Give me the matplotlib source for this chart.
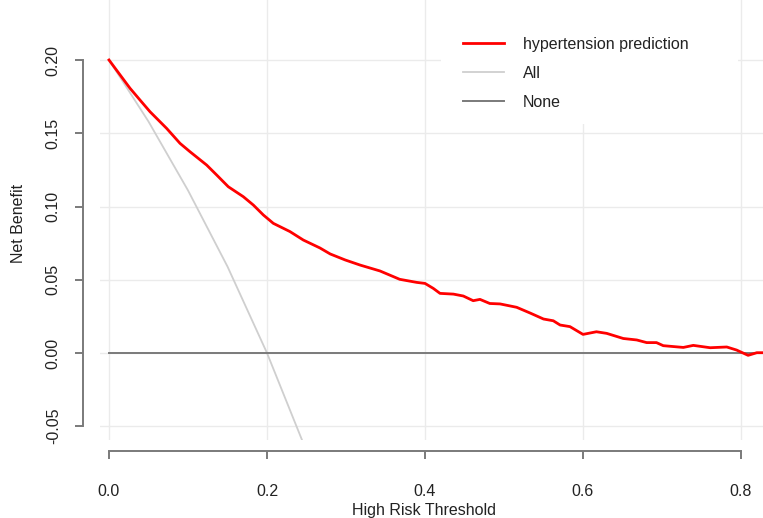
import matplotlib
matplotlib.use("Agg")
import matplotlib.pyplot as plt
from matplotlib.patches import Rectangle

plt.rcParams['font.family'] = ['Liberation Sans', 'DejaVu Sans']

# Model curve
model_x = [0.0, 0.0266, 0.0392, 0.0519, 0.073, 0.0899, 0.1025, 0.1236, 0.1363, 0.151,
           0.170, 0.1827, 0.1954, 0.208, 0.229, 0.246, 0.267, 0.28, 0.299, 0.318,
           0.343, 0.368, 0.3895, 0.4, 0.4105, 0.419, 0.436, 0.4485, 0.461, 0.4696,
           0.482, 0.495, 0.516, 0.533, 0.55, 0.5624, 0.571, 0.5835, 0.6, 0.617,
           0.63, 0.651, 0.668, 0.6806, 0.693, 0.7016, 0.727, 0.7396, 0.761, 0.782,
           0.7945, 0.809, 0.82, 0.828]
model_y = [0.200, 0.1807, 0.1727, 0.1647, 0.1533, 0.1431, 0.1374, 0.1283, 0.1215, 0.1135,
           0.1067, 0.101, 0.0942, 0.0885, 0.0829, 0.0771, 0.0717, 0.0676, 0.0635, 0.060,
           0.056, 0.0503, 0.0482, 0.0475, 0.0441, 0.0407, 0.0402, 0.0389, 0.0357, 0.0366,
           0.0338, 0.0335, 0.0312, 0.0273, 0.0232, 0.022, 0.0191, 0.018, 0.0127, 0.0145,
           0.0134, 0.0099, 0.0089, 0.0071, 0.0071, 0.0050, 0.0038, 0.0052, 0.0036, 0.0041,
           0.0020, -0.0016, 0.0002, 0.0002]

# Treat-all curve
all_x = [0.0, 0.05, 0.1, 0.15, 0.2, 0.25]
all_y = [0.200, 0.158, 0.111, 0.059, 0.0, -0.067]

# Treat-none
none_x = [0.0, 0.828]
none_y = [0.0, 0.0]

xticks = [0.0, 0.2, 0.4, 0.6, 0.8]
xtick_labels = ["0.0", "0.2", "0.4", "0.6", "0.8"]
yticks = [-0.05, 0.0, 0.05, 0.10, 0.15, 0.20]
ytick_labels = ["-0.05", "0.00", "0.05", "0.10", "0.15", "0.20"]

W, H = 763, 518
fig = plt.figure(figsize=(W / 100, H / 100), dpi=100)

def fx(px):
    return px / W

def fy(py):
    return 1 - py / H

ax = fig.add_axes([fx(100), fy(440), fx(763) - fx(100), fy(0) - fy(440)])

x0, xs = 109, 790.0
y0, ys = 353, 1465.0
ax.set_xlim((100 - x0) / xs, (763 - x0) / xs)
ax.set_ylim((y0 - 440) / ys, (y0 - 0) / ys)

grid_c = '#ebebeb'
ax.set_axisbelow(True)
ax.grid(True, color=grid_c, linewidth=1.0)

ax.add_patch(Rectangle((fx(441), fy(124)), fx(738) - fx(441), fy(0) - fy(124),
                       transform=fig.transFigure, facecolor='white', edgecolor='none',
                       zorder=1.5))

l_all, = ax.plot(all_x, all_y, color='#cfcfcf', linewidth=1.3, zorder=2, label='All')
l_none, = ax.plot(none_x, none_y, color='#7a7a7a', linewidth=1.4, zorder=2.5, label='None')
l_model, = ax.plot(model_x, model_y, color='#ff0000', linewidth=2.0, zorder=3,
                   label='hypertension prediction')

for s in ['top', 'right']:
    ax.spines[s].set_visible(False)
spine_c = '#7a7a7a'
ax.spines['left'].set_position(('outward', 17 * 72 / 100))
ax.spines['bottom'].set_position(('outward', 11 * 72 / 100))
ax.spines['left'].set_bounds(-0.05, 0.20)
ax.spines['bottom'].set_bounds(0.0, 0.8)
for s in ['left', 'bottom']:
    ax.spines[s].set_color(spine_c)
    ax.spines[s].set_linewidth(1.4)

txt_c = '#222222'
fs = 11.5
ax.set_xticks(xticks)
ax.set_xticklabels(xtick_labels)
ax.set_yticks(yticks)
ax.set_yticklabels(ytick_labels, rotation=90, va='center')
ax.tick_params(axis='both', colors=spine_c, width=1.4, length=6, labelsize=fs,
               labelcolor=txt_c)
ax.tick_params(axis='x', pad=18)
ax.tick_params(axis='y', pad=10)

fig.text(fx(19), fy(223), 'Net Benefit', rotation=90, ha='center', va='center',
         fontsize=fs, color=txt_c)
fig.text(fx(424), fy(511), 'High Risk Threshold', ha='center', va='center',
         fontsize=fs, color=txt_c)

leg = fig.legend(handles=[l_model, l_all, l_none], loc='upper left',
                 bbox_to_anchor=(fx(463), fy(37)), frameon=False, fontsize=fs,
                 handlelength=2.56, handletextpad=1.2, labelspacing=0.87,
                 borderaxespad=0, borderpad=0)
for t in leg.get_texts():
    t.set_color(txt_c)

fig.savefig('out.png', dpi=100)
